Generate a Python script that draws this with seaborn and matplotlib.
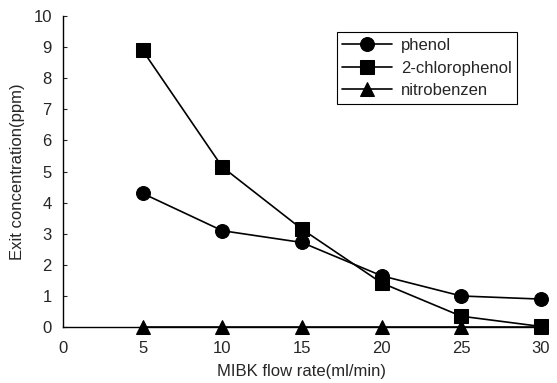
import matplotlib
matplotlib.use("Agg")
import matplotlib.pyplot as plt
import seaborn as sns
import pandas as pd

flow = [5, 10, 15, 20, 25, 30]
phenol = [4.3, 3.1, 2.72, 1.65, 1.0, 0.9]
chlorophenol = [8.9, 5.15, 3.15, 1.42, 0.35, 0.02]
nitrobenzen = [0, 0, 0, 0, 0, 0]
series_names = ["phenol", "2-chlorophenol", "nitrobenzen"]

df = pd.DataFrame({
    "flow": flow * 3,
    "conc": phenol + chlorophenol + nitrobenzen,
    "compound": [series_names[0]] * 6 + [series_names[1]] * 6 + [series_names[2]] * 6,
})

sns.set_style("white")
plt.rcParams["font.family"] = ["Liberation Sans", "DejaVu Sans"]

fig = plt.figure(figsize=(5.57, 3.83), dpi=100)
ax = fig.add_axes([0.113, 0.146, 0.858, 0.812])

sns.lineplot(data=df, x="flow", y="conc", hue="compound", style="compound",
             markers={"phenol": "o", "2-chlorophenol": "s", "nitrobenzen": "^"},
             dashes=False, palette=["black"] * 3, markersize=10, linewidth=1.2,
             markeredgecolor="black", ax=ax, clip_on=False)

ax.set_xlim(0, 30)
ax.set_ylim(0, 10)
ax.set_xticks([0, 5, 10, 15, 20, 25, 30])
ax.set_yticks(range(0, 11))
ax.set_xlabel("MIBK flow rate(ml/min)", fontsize=12, labelpad=6)
ax.set_ylabel("Exit concentration(ppm)", fontsize=12, labelpad=6)
ax.tick_params(axis="x", length=0, labelsize=12, pad=10)
ax.tick_params(axis="y", direction="in", length=3, width=0.8, labelsize=12, pad=8, left=True)
for s in ["top", "right"]:
    ax.spines[s].set_visible(False)
for s in ["left", "bottom"]:
    ax.spines[s].set_color("black")
    ax.spines[s].set_linewidth(1.0)

leg = ax.legend(loc="upper left", bbox_to_anchor=(0.555, 0.975), fontsize=12,
                frameon=True, fancybox=False, edgecolor="black", framealpha=1,
                handlelength=3, borderpad=0.35, labelspacing=0.45, handletextpad=0.5)
leg.get_frame().set_linewidth(0.8)

fig.savefig("out.png", dpi=100)
